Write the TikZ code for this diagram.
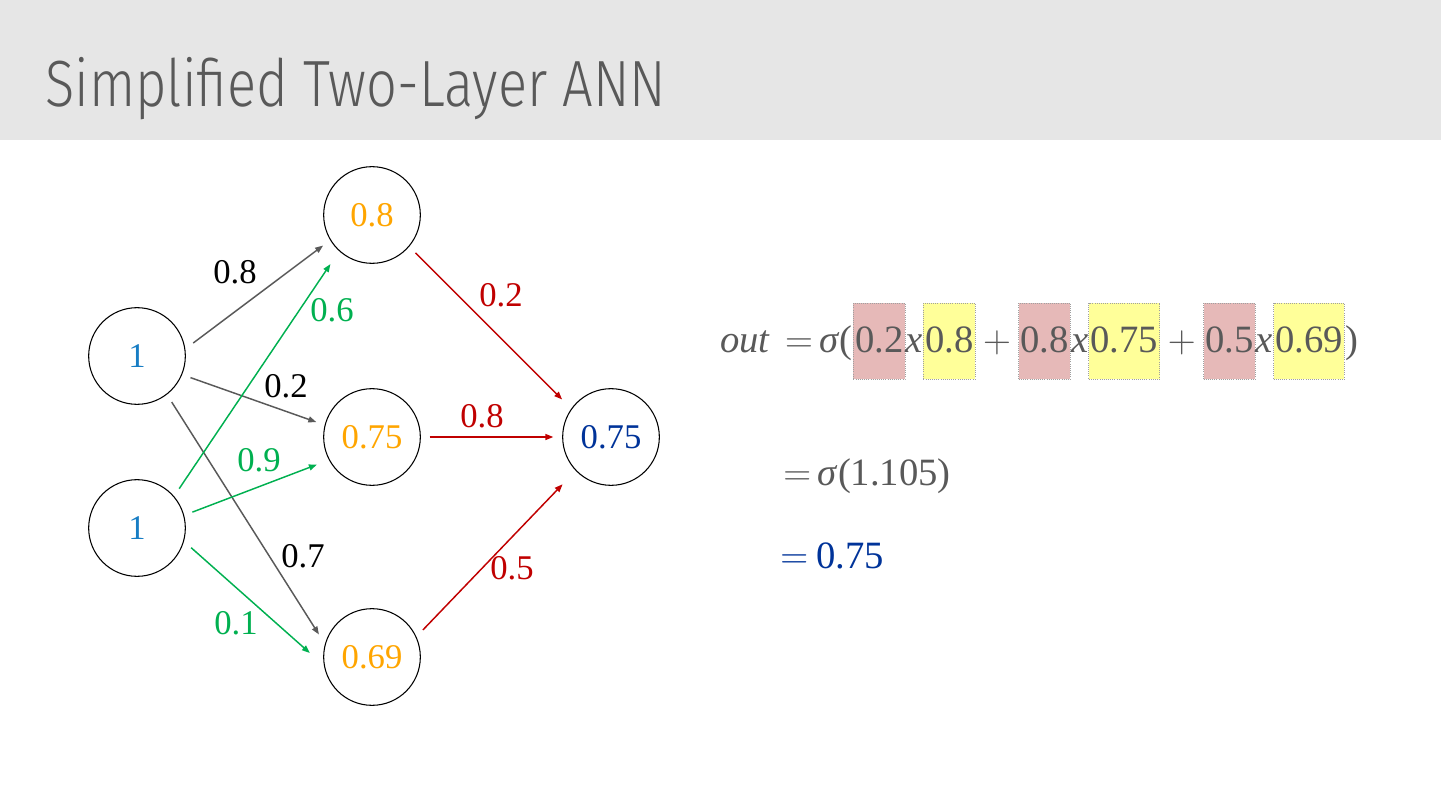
\RequirePackage{fix-cm}
\documentclass[tikz,border=0pt]{standalone}
\usepackage{fontspec}
\setmainfont{Liberation Serif}
\newfontfamily\titlefont[FakeStretch=0.83]{Fira Sans Light}
\usetikzlibrary{arrows.meta}

\definecolor{headgray}{RGB}{230,230,230}
\definecolor{titlegray}{RGB}{89,89,89}
\definecolor{inblue}{RGB}{23,125,196}
\definecolor{hidorange}{RGB}{255,165,0}
\definecolor{outblue}{RGB}{0,51,153}
\definecolor{edgegray}{RGB}{89,89,89}
\definecolor{edgegreen}{RGB}{0,176,80}
\definecolor{edgered}{RGB}{192,0,0}
\definecolor{eqgray}{RGB}{89,89,89}
\definecolor{pinkbox}{RGB}{230,185,184}
\definecolor{yellowbox}{RGB}{255,255,153}
\definecolor{boxedge}{RGB}{160,160,160}

\begin{document}
\begin{tikzpicture}[x=0.75pt, y=-0.75pt,
  neuron/.style={circle, draw=black, line width=0.8pt, minimum size=72.5pt,
    inner sep=0pt, outer sep=7pt, font=\fontsize{26}{30}\selectfont, text=#1},
  link/.style={-{Triangle[length=6pt,width=4.5pt]}, line width=1.1pt, draw=#1},
  wlab/.style={font=\fontsize{26}{30}\selectfont, inner sep=0pt, text=#1},
  eq/.style={font=\fontsize{29}{34}\selectfont, inner sep=0pt, anchor=base west, text=eqgray},
  term/.style={eq, fill=#1, draw=boxedge, densely dotted, line width=0.6pt,
    inner xsep=1.2pt, text height=36.75pt, text depth=20.25pt}
]
\useasboundingbox (0,0) rectangle (1441,809);
\fill[headgray] (0,0) rectangle (1441,140);
\node[anchor=base west, inner sep=0pt, text=titlegray,
  font=\titlefont\fontsize{49}{55}\selectfont] (title) at (45,107) {Simplified Two-Layer ANN};

% neurons
\node[neuron=inblue]    (in1) at (137,356) {1};
\node[neuron=inblue]    (in2) at (137,528) {1};
\node[neuron=hidorange] (h1)  at (372,215) {0.8};
\node[neuron=hidorange] (h2)  at (372,437) {0.75};
\node[neuron=hidorange] (h3)  at (372,657) {0.69};
\node[neuron=outblue]   (y)   at (611,437) {0.75};

% weights
\draw[link=edgegray] (in1.13) -- (h1.212);
\draw[link=edgegray] (in1.-22) -- (h2.165);
\draw[link=edgegray] (in1.-53) -- (h3.157);
\draw[link=edgegreen, shorten >=5pt] (in2.43) -- (h1.229);
\draw[link=edgegreen, shorten >=3pt] (in2.16) -- (h2.207);
\draw[link=edgegreen, shorten >=4.5pt] (in2.-20) -- (h3.180);
\draw[link=edgered, shorten >=3pt] (h1.-41) -- (y.143);
\draw[link=edgered] (h2.0) -- (y.180);
\draw[link=edgered, shorten >=7.5pt] (h3.28) -- (y.224);

\foreach \n/\c/\x/\y/\t in {w11/black/235/272/0.8, w21/edgegreen/332/310/0.6,
    w12/black/286/386/0.2, w22/edgegreen/259/460/0.9, w13/black/303/556/0.7,
    w23/edgegreen/236/623/0.1, v1/edgered/501/295/0.2, v2/edgered/482/416/0.8,
    v3/edgered/512/568/0.5} {
  \node[wlab=\c] (\n) at (\x,\y) {\t};
}

% equation
\node[eq] (e0) at (720,352) {\textit{out}\hspace{11pt}$=$\hspace{5pt}\textit{σ}(};
\node[term=pinkbox]   (t1) at (e0.base east) {0.2};
\node[eq]             (x1) at (t1.base east) {\textit{x}};
\node[term=yellowbox] (t2) at (x1.base east) {0.8};
\node[eq, inner xsep=5.5pt] (p1) at (t2.base east) {$+$};
\node[term=pinkbox]   (t3) at (p1.base east) {0.8};
\node[eq]             (x2) at (t3.base east) {\textit{x}};
\node[term=yellowbox] (t4) at (x2.base east) {0.75};
\node[eq, inner xsep=5.5pt] (p2) at (t4.base east) {$+$};
\node[term=pinkbox]   (t5) at (p2.base east) {0.5};
\node[eq]             (x3) at (t5.base east) {\textit{x}};
\node[term=yellowbox] (t6) at (x3.base east) {0.69};
\node[eq]             (e1) at (t6.base east) {)};

\node[eq] (e2) at (783,485) {$=$\hspace{5pt}\textit{σ}(1.105)};
\node[eq, text=outblue] (e3) at (780,568) {$=$\hspace{6pt}0.75};
\end{tikzpicture}
\end{document}
